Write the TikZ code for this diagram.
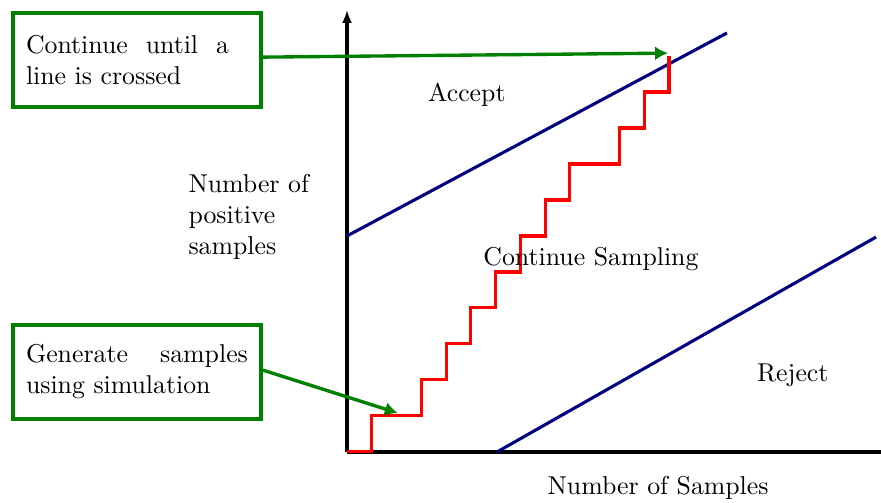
\documentclass[tikz,border=0pt]{standalone}
\usepackage{tikz}
\usetikzlibrary{arrows.meta, positioning}
\definecolor{darkgreen}{RGB}{0,128,0}
\definecolor{navy}{RGB}{0,0,128}
\tikzset{
  note/.style ={rectangle, draw=darkgreen, line width=1.5pt, text width=86pt, inner xsep=5.05pt, minimum height=36.5pt, align=justify},
  lbl/.style  ={align=left, inner sep=0pt},
  axis/.style ={line width=1.2pt, -{Latex[length=5pt, width=3.8pt]}},
  bound/.style={navy, line width=1.2pt},
  walk/.style ={red, line width=1.2pt},
  fl/.style   ={darkgreen, line width=1.3pt, -{Latex[length=5pt, width=5.4pt]}},
}

\begin{document}
\begin{tikzpicture}[x=9.6pt, y=13.95pt]
  \useasboundingbox (-14.01,-1.394) rectangle (21.56,12.556);
  % axes
  \coordinate (o) at (0,0);
  \coordinate (ytip) at (0,12.28);
  \coordinate (xend) at (21.6,0);
  \draw[axis] (o) -- (ytip);
  \draw[line width=1.6pt] (o) -- (xend);
  % decision lines
  \coordinate (accA) at (0,6);
  \coordinate (accB) at (15.34,11.64);
  \coordinate (rejA) at (6.06,0);
  \coordinate (rejB) at (21.36,5.97);
  \draw[bound] (accA) -- (accB);
  \draw[bound] (rejA) -- (rejB);
  % sample path
  \draw[walk] (o) -| (1,1) -| (3,2) -| (4,3) -| (5,4) -| (6,5) -| (7,6)
    -| (8,7) -| (9,8) -| (11,9) -| (12,10) -| (13,11);
  % regions and axis labels
  \node[lbl] (accept) at (4.84,9.92) {Accept};
  \node[lbl] (contsmp) at (9.85,5.36) {Continue Sampling};
  \node[lbl] (reject) at (18.0,2.14) {Reject};
  \node[lbl] (xlabel) at (12.56,-1.0) {Number of Samples};
  \node[lbl, anchor=west] (ylabel) at (-6.42,6.54) {Number of\\positive\\samples};
  % notes
  \node[note] (crossbox) at (-8.48,10.89) {\parbox{78.7pt}{Continue until a line is crossed}};
  \node[note] (simbox) at (-8.48,2.23) {Generate samples using simulation};
  \coordinate (crosspt) at (12.96,11.08);
  \coordinate (steppt) at (2.05,1.08);
  \draw[fl] ([yshift=1.1pt]crossbox.east) -- (crosspt);
  \draw[fl] ([yshift=0.6pt]simbox.east) -- (steppt);
\end{tikzpicture}
\end{document}
